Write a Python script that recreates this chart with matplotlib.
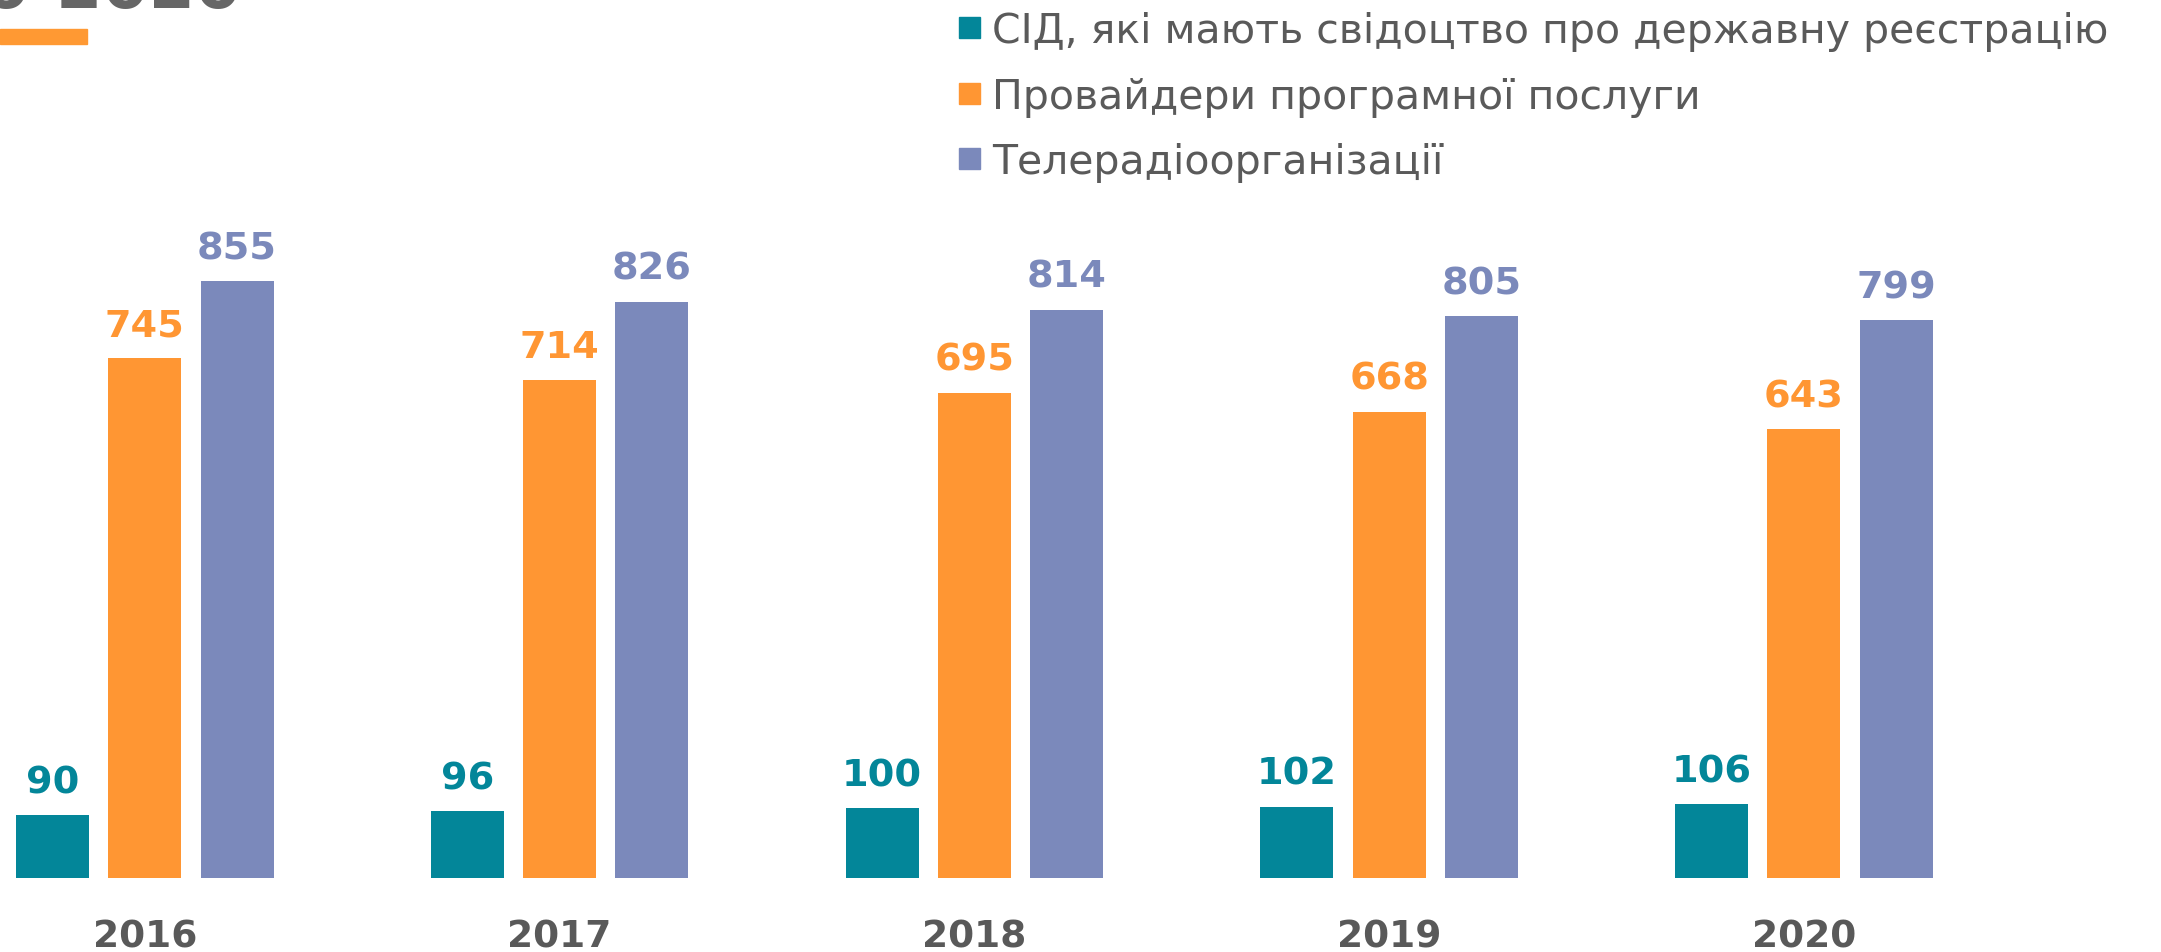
import numpy as np
import matplotlib.pyplot as plt
from matplotlib.patches import Rectangle

# data
years = ['2016', '2017', '2018', '2019', '2020']
sid = [90, 96, 100, 102, 106]
providers = [745, 714, 695, 668, 643]
broadcasters = [855, 826, 814, 805, 799]

series_names = ['СІД, які мають свідоцтво про державну реєстрацію',
                'Провайдери програмної послуги',
                'Телерадіоорганізації']
colors = ['#038699', '#FF9633', '#7B89BB']
title = '2016-2020'

W, H = 2161, 952
fig = plt.figure(figsize=(W / 100, H / 100), dpi=100)

# axes placed so that the bars land where they are in the reference
x0_px = 144.7        # centre of first group, px
group_px = 414.8     # px per group
base_px = 74         # baseline from bottom, px
unit_px = 0.6979     # px per value unit

ax = fig.add_axes([0, base_px / H, 1, (H - base_px) / H])
ax.set_xlim(-x0_px / group_px, (W - x0_px) / group_px)
ax.set_ylim(0, (H - base_px) / unit_px)
ax.axis('off')

x = np.arange(len(years))
step = 92.3 / group_px
width = 73 / group_px

for i, (vals, c) in enumerate(zip([sid, providers, broadcasters], colors)):
    xs = x + (i - 1) * step
    ax.bar(xs, vals, width=width, color=c)
    for xi, v in zip(xs, vals):
        ax.annotate(str(v), (xi, v), xytext=(0, 22), textcoords='offset pixels',
                    ha='center', va='baseline', fontsize=27.5, fontweight='heavy', color=c)

for xi, yr in zip(x, years):
    ax.annotate(yr, (xi, 0), xytext=(0, -70), textcoords='offset pixels',
                ha='center', va='baseline', fontsize=27, fontweight='heavy', color='#595959')

# legend, drawn by hand
rows_y = [27.6, 93.7, 158.5]
for name, c, ry in zip(series_names, colors, rows_y):
    fig.add_artist(Rectangle((959 / W, (H - ry - 10.5) / H), 21 / W, 21 / H,
                             transform=fig.transFigure, color=c))
    fig.text(992 / W, (H - ry) / H, name, ha='left', va='center_baseline',
             fontsize=29.5, color='#5a5a5a')

# clipped title and its underline
fig.text(242 / W, (H - 8) / H, title, ha='right', va='baseline',
         fontsize=48, fontweight='bold', color='#666666')
fig.add_artist(Rectangle((0, (H - 44) / H), 87 / W, 15 / H,
                         transform=fig.transFigure, color='#FF9933'))

fig.savefig('out.png', dpi=100)
